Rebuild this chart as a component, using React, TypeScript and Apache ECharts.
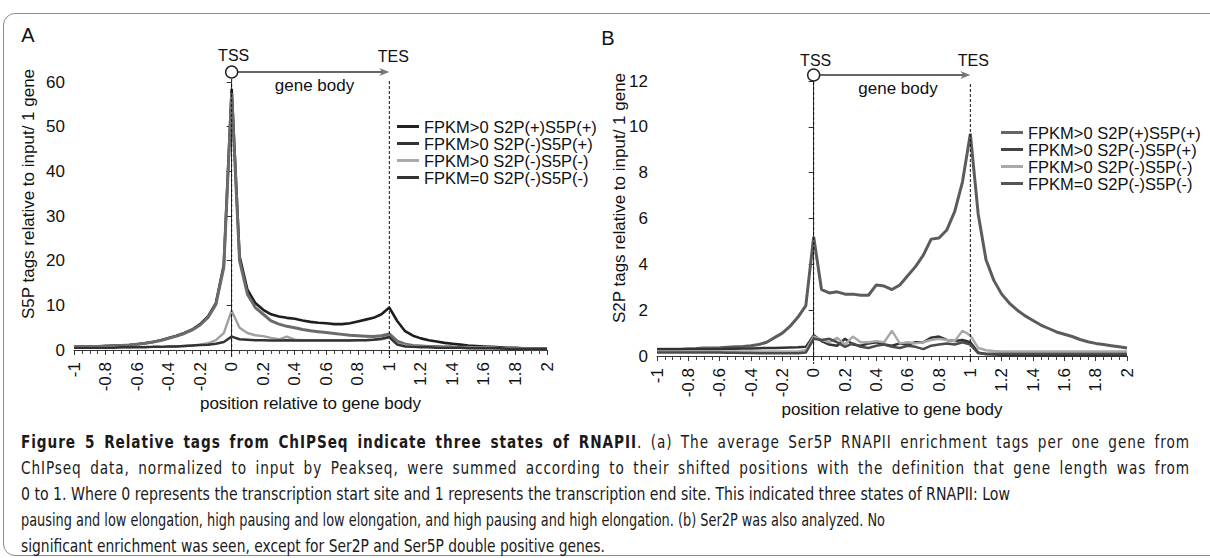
import React, { useEffect, useRef } from "react";
import * as echarts from "echarts";

// ---------- data ----------
const X_POS = [
  -1, -0.95, -0.9, -0.85, -0.8, -0.75, -0.7, -0.65, -0.6, -0.55, -0.5, -0.45, -0.4, -0.35, -0.3, -0.25, -0.2, -0.15, -0.1, -0.05,
  0, 0.05, 0.1, 0.15, 0.2, 0.25, 0.3, 0.35, 0.4, 0.45, 0.5, 0.55, 0.6, 0.65, 0.7, 0.75, 0.8, 0.85, 0.9, 0.95,
  1, 1.05, 1.1, 1.15, 1.2, 1.25, 1.3, 1.35, 1.4, 1.45, 1.5, 1.55, 1.6, 1.65, 1.7, 1.75, 1.8, 1.85, 1.9, 1.95, 2,
];

const X_TICKS = [-1, -0.8, -0.6, -0.4, -0.2, 0, 0.2, 0.4, 0.6, 0.8, 1, 1.2, 1.4, 1.6, 1.8, 2];

const SERIES_NAMES = ["FPKM>0 S2P(+)S5P(+)", "FPKM>0 S2P(-)S5P(+)", "FPKM>0 S2P(-)S5P(-)", "FPKM=0 S2P(-)S5P(-)"];

// Panel A: S5P tags
const A_S2P_POS_S5P_POS = [
  0.8, 0.8, 0.8, 0.8, 0.9, 0.9, 1.0, 1.1, 1.3, 1.5, 1.8, 2.2, 2.7, 3.2, 3.8, 4.6, 5.8, 7.5, 10.5, 19,
  58.5,
  21, 13.5, 10.5, 9, 8, 7.5, 7.2, 7, 6.6, 6.3, 6.1, 6, 5.8, 5.8, 6, 6.4, 6.8, 7.2, 8,
  9.5,
  6.5, 4.2, 3.2, 2.6, 2.2, 1.9, 1.6, 1.4, 1.2, 1.0, 0.9, 0.8, 0.7, 0.6, 0.5, 0.5, 0.4, 0.4, 0.3, 0.3,
];
const A_S2P_NEG_S5P_POS = [
  0.8, 0.8, 0.8, 0.8, 0.9, 1.0, 1.0, 1.1, 1.3, 1.5, 1.8, 2.1, 2.6, 3.1, 3.7, 4.5, 5.6, 7.3, 10.2, 18.5,
  57.5,
  20, 12.5, 9.5, 8, 6.5, 5.8, 5.3, 5, 4.6, 4.3, 4.1, 3.9, 3.7, 3.5, 3.3, 3.2, 3.1, 3.0, 3.2,
  3.6,
  2.0, 1.3, 1.0, 0.9, 0.8, 0.8, 0.7, 0.7, 0.6, 0.6, 0.5, 0.5, 0.5, 0.4, 0.4, 0.4, 0.3, 0.3, 0.3, 0.3,
];
const A_S2P_NEG_S5P_NEG = [
  0.6, 0.6, 0.6, 0.6, 0.6, 0.6, 0.6, 0.6, 0.7, 0.7, 0.7, 0.7, 0.8, 0.8, 0.9, 1.0, 1.2, 1.5, 2.2, 3.8,
  8.8,
  5, 3.8, 3.3, 3.1, 2.7, 2.4, 3.0, 2.3, 2.2, 2.2, 2.2, 2.2, 2.2, 2.2, 2.2, 2.2, 2.2, 2.3, 2.4,
  2.8,
  1.4, 1.0, 0.8, 0.7, 0.7, 0.6, 0.6, 0.6, 0.5, 0.5, 0.5, 0.5, 0.5, 0.4, 0.4, 0.4, 0.4, 0.4, 0.4, 0.4,
];
const A_FPKM0 = [
  0.5, 0.5, 0.5, 0.5, 0.5, 0.5, 0.6, 0.6, 0.6, 0.6, 0.7, 0.7, 0.8, 0.8, 0.9, 1.0, 1.1, 1.2, 1.4, 1.8,
  3.0,
  2.4, 2.3, 2.2, 2.2, 2.1, 2.1, 2.2, 2.1, 2.1, 2.1, 2.1, 2.1, 2.1, 2.1, 2.1, 2.2, 2.2, 2.3, 2.5,
  2.9,
  1.2, 0.8, 0.7, 0.6, 0.6, 0.5, 0.5, 0.5, 0.5, 0.4, 0.4, 0.4, 0.4, 0.4, 0.3, 0.3, 0.3, 0.3, 0.3, 0.3,
];

// Panel B: S2P tags
const B_S2P_POS_S5P_POS = [
  0.3, 0.3, 0.3, 0.3, 0.32, 0.33, 0.35, 0.35, 0.36, 0.38, 0.4, 0.42, 0.45, 0.5, 0.6, 0.8, 1.0, 1.3, 1.7, 2.2,
  5.2,
  2.9, 2.75, 2.8, 2.7, 2.7, 2.65, 2.65, 3.1, 3.05, 2.9, 3.1, 3.5, 3.9, 4.4, 5.1, 5.15, 5.5, 6.3, 7.6,
  9.7,
  6.2, 4.2, 3.3, 2.7, 2.3, 2.0, 1.75, 1.55, 1.35, 1.2, 1.05, 0.95, 0.85, 0.72, 0.62, 0.55, 0.5, 0.45, 0.4, 0.35,
];
const B_S2P_NEG_S5P_POS = [
  0.3, 0.3, 0.3, 0.3, 0.3, 0.3, 0.3, 0.3, 0.3, 0.32, 0.32, 0.33, 0.33, 0.34, 0.35, 0.35, 0.36, 0.37, 0.38, 0.4,
  0.9,
  0.65, 0.5, 0.45, 0.75, 0.5, 0.45, 0.55, 0.6, 0.5, 0.45, 0.55, 0.5, 0.6, 0.6, 0.8, 0.85, 0.7, 0.65, 0.7,
  0.6,
  0.15, 0.08, 0.06, 0.05, 0.05, 0.05, 0.05, 0.05, 0.05, 0.05, 0.05, 0.05, 0.05, 0.05, 0.05, 0.05, 0.05, 0.05, 0.05, 0.05,
];
const B_S2P_NEG_S5P_NEG = [
  0.2, 0.2, 0.2, 0.2, 0.2, 0.2, 0.2, 0.2, 0.2, 0.2, 0.2, 0.2, 0.2, 0.2, 0.2, 0.2, 0.2, 0.2, 0.2, 0.25,
  0.85,
  0.7, 0.6, 0.8, 0.5, 0.85, 0.6, 0.6, 0.65, 0.6, 1.1, 0.55, 0.6, 0.55, 0.6, 0.7, 0.75, 0.7, 0.65, 1.1,
  0.9,
  0.35, 0.25, 0.22, 0.2, 0.2, 0.2, 0.2, 0.2, 0.2, 0.2, 0.2, 0.2, 0.2, 0.2, 0.2, 0.2, 0.2, 0.2, 0.2, 0.2,
];
const B_FPKM0 = [
  0.15, 0.15, 0.15, 0.15, 0.15, 0.15, 0.15, 0.15, 0.15, 0.14, 0.14, 0.13, 0.13, 0.12, 0.12, 0.12, 0.12, 0.12, 0.12, 0.15,
  0.75,
  0.7, 0.75, 0.6, 0.4, 0.55, 0.4, 0.35, 0.45, 0.5, 0.4, 0.35, 0.45, 0.4, 0.3, 0.45, 0.5, 0.55, 0.5, 0.6,
  0.5,
  0.12, 0.1, 0.1, 0.1, 0.1, 0.1, 0.1, 0.1, 0.1, 0.1, 0.1, 0.1, 0.1, 0.1, 0.1, 0.1, 0.1, 0.1, 0.1, 0.1,
];

const A_VALUES = [A_S2P_POS_S5P_POS, A_S2P_NEG_S5P_POS, A_S2P_NEG_S5P_NEG, A_FPKM0];
const B_VALUES = [B_S2P_POS_S5P_POS, B_S2P_NEG_S5P_POS, B_S2P_NEG_S5P_NEG, B_FPKM0];

const Y_TITLES = ["S5P tags relative to input/ 1 gene", "S2P tags relative to input/ 1 gene"];
const X_TITLE = "position relative to gene body";
const PANEL_LABELS = ["A", "B"];

const CAPTION_LINES = [
  { bold: "Figure 5 Relative tags from ChIPSeq indicate three states of RNAPII", text: ". (a) The average Ser5P RNAPII enrichment tags per one gene from" },
  { bold: "", text: "ChIPseq data, normalized to input by Peakseq, were summed according to their shifted positions with the definition that gene length was from" },
  { bold: "", text: "0 to 1. Where 0 represents the transcription start site and 1 represents the transcription end site. This indicated three states of RNAPII: Low" },
  { bold: "", text: "pausing and low elongation, high pausing and low elongation, and high pausing and high elongation. (b) Ser2P was also analyzed. No" },
  { bold: "", text: "significant enrichment was seen, except for Ser2P and Ser5P double positive genes." },
];

// ---------- layout / style ----------
const FONT = '"Liberation Sans", Arial, Helvetica, sans-serif';
const CAPTION_FONT = '"Liberation Sans Narrow", "Arial Narrow", "DejaVu Sans Condensed", "Liberation Sans", sans-serif';
const CAPTION_LAYOUT = {
  left: 21,
  centers: [442, 468, 494, 520, 546],
  widths: [1169, 1169, 989, 864, 584],
  justified: [true, true, false, false, false],
};

const PANELS = [
  {
    grid: { left: 74, top: 82, width: 473, height: 268 },
    yMax: 60, yInterval: 10,
    colors: ["#1e1e1e", "#6b6b6b", "#a0a0a0", "#333333"],
    widths: [2.6, 3, 2.4, 2.5],
    legendIcon: ["#222", "#333", "#aaa", "#333"],
    legend: { left: 397, top: 118, lineHeight: 15 },
    arrowAbove: 10, tssDy: -17, tesDx: 4, tesDy: -16, bodyDx: 4, bodyDy: 13,
    label: { x: 28, y: 35 },
    yTitle: { x: 28, y: 194 },
    suffix: "",
  },
  {
    grid: { left: 657, top: 81, width: 470, height: 275 },
    yMax: 12, yInterval: 2,
    colors: ["#5c5c5c", "#333333", "#a8a8a8", "#4c4c4c"],
    widths: [3, 2.5, 2.4, 2.5],
    legendIcon: ["#666", "#444", "#aaa", "#555"],
    legend: { left: 1001, top: 124, lineHeight: 16.5 },
    arrowAbove: 6, tssDy: -15, tesDx: 3, tesDy: -15, bodyDx: 6, bodyDy: 13,
    label: { x: 608, y: 38 },
    yTitle: { x: 619, y: 198 },
    suffix: " ",
  },
];

function buildOption() {
  const grids: any[] = [];
  const xAxes: any[] = [];
  const yAxes: any[] = [];
  const series: any[] = [];
  const legends: any[] = [];
  PANELS.forEach((p, g) => {
    grids.push({ ...p.grid, containLabel: false });
    xAxes.push({
      type: "value", gridIndex: g, min: X_TICKS[0], max: X_TICKS[X_TICKS.length - 1], interval: 0.2,
      axisLine: { show: true, lineStyle: { color: "#333", width: 1 } },
      axisTick: { show: true, length: 5, lineStyle: { color: "#333" } },
      minorTick: { show: true, splitNumber: 4, length: 4, lineStyle: { color: "#444" } },
      splitLine: { show: false },
      axisLabel: {
        rotate: 90, margin: 12, fontSize: 17, color: "#111", fontFamily: FONT,
        formatter: (v: number) => String(Number(v.toFixed(1))),
      },
      name: X_TITLE, nameLocation: "middle", nameGap: 45,
      nameTextStyle: { fontSize: 17, color: "#111", fontFamily: FONT },
    });
    yAxes.push({
      type: "value", gridIndex: g, min: 0, max: p.yMax, interval: p.yInterval,
      axisLine: { show: true, lineStyle: { color: "#333", width: 1 } },
      axisTick: { show: true, length: 5, lineStyle: { color: "#333" } },
      splitLine: { show: false },
      axisLabel: { fontSize: 17, margin: 9, color: "#111", fontFamily: FONT },
    });
    const vals = g === 0 ? A_VALUES : B_VALUES;
    const names = SERIES_NAMES.map((n) => n + p.suffix);
    vals.forEach((arr, i) => {
      series.push({
        type: "line", name: names[i], xAxisIndex: g, yAxisIndex: g,
        data: X_POS.map((x, k) => [x, arr[k]]),
        symbol: "none", showSymbol: false, silent: true,
        color: p.colors[i],
        itemStyle: { color: p.legendIcon[i] },
        lineStyle: { color: p.colors[i], width: p.widths[i] },
        z: 2 + i,
      });
    });
    legends.push({
      orient: "vertical", left: p.legend.left, top: p.legend.top, padding: 0,
      itemWidth: 22, itemHeight: 3, itemGap: 0, icon: "rect",
      selectedMode: false,
      data: names,
      formatter: (n: string) => n.trim(),
      textStyle: { fontSize: 16.5, lineHeight: p.legend.lineHeight, color: "#111", fontFamily: FONT },
    });
  });
  return {
    animation: false,
    backgroundColor: "transparent",
    grid: grids,
    xAxis: xAxes,
    yAxis: yAxes,
    legend: legends,
    series,
  };
}

function buildGraphic(chart: any) {
  const out: any[] = [];
  PANELS.forEach((p, g) => {
    const [x0, yBot] = chart.convertToPixel({ gridIndex: g }, [0, 0]);
    const [x1] = chart.convertToPixel({ gridIndex: g }, [1, 0]);
    const yTop = chart.convertToPixel({ gridIndex: g }, [0, p.yMax])[1];
    const ay = yTop - p.arrowAbove;
    const textStyle = (text: string, size: number) => ({
      text, fontSize: size, fontFamily: FONT, fill: "#111", align: "center", verticalAlign: "middle",
    });
    out.push({ type: "line", silent: true, z: 5, shape: { x1: x0, y1: ay + 7, x2: x0, y2: yBot + 8 }, style: { stroke: "#111", lineWidth: 1, lineDash: [3, 2] } });
    out.push({ type: "line", silent: true, z: 5, shape: { x1: x1, y1: ay + 9, x2: x1, y2: yBot + 8 }, style: { stroke: "#111", lineWidth: 1, lineDash: [3, 2] } });
    out.push({ type: "line", silent: true, z: 6, shape: { x1: x0 + 6, y1: ay, x2: x1 - 4, y2: ay }, style: { stroke: "#333", lineWidth: 1.6 } });
    out.push({ type: "polygon", silent: true, z: 6, shape: { points: [[x1, ay], [x1 - 10, ay - 4], [x1 - 7, ay], [x1 - 10, ay + 4]] }, style: { fill: "#777" } });
    out.push({ type: "circle", silent: true, z: 7, shape: { cx: x0, cy: ay, r: 6 }, style: { fill: "#fff", stroke: "#222", lineWidth: 1.4 } });
    out.push({ type: "text", silent: true, x: x0 + 2, y: ay + p.tssDy, style: textStyle("TSS", 16) });
    out.push({ type: "text", silent: true, x: x1 + p.tesDx, y: ay + p.tesDy, style: textStyle("TES", 16) });
    out.push({ type: "text", silent: true, x: (x0 + x1) / 2 + p.bodyDx, y: ay + p.bodyDy, style: textStyle("gene body", 17) });
    out.push({ type: "text", silent: true, x: p.label.x, y: p.label.y, style: textStyle(PANEL_LABELS[g], 20) });
    out.push({ type: "text", silent: true, x: p.yTitle.x, y: p.yTitle.y, rotation: Math.PI / 2, style: textStyle(Y_TITLES[g], 17) });
  });
  return out;
}

export default function App() {
  const chartRef = useRef<HTMLDivElement>(null);
  const lineRefs = useRef<(HTMLSpanElement | null)[]>([]);

  useEffect(() => {
    const el = chartRef.current;
    if (!el) return;
    const chart = echarts.init(el, null, { renderer: "svg" });
    chart.setOption(buildOption());
    chart.setOption({ graphic: buildGraphic(chart) });
    return () => chart.dispose();
  }, []);

  useEffect(() => {
    const spans = lineRefs.current;
    const naturals = spans.map((s) => {
      if (!s) return 0;
      s.style.transform = "none";
      s.style.wordSpacing = "0px";
      s.style.letterSpacing = "0px";
      return s.getBoundingClientRect().width;
    });
    // uniform horizontal scale from the ragged (non-justified) lines
    let sum = 0;
    let n = 0;
    naturals.forEach((w, i) => {
      if (!CAPTION_LAYOUT.justified[i] && w > 0) { sum += CAPTION_LAYOUT.widths[i] / w; n += 1; }
    });
    const s = n > 0 ? sum / n : 1;
    spans.forEach((span, i) => {
      if (!span) return;
      if (CAPTION_LAYOUT.justified[i]) {
        const ln = CAPTION_LINES[i];
        const full = ln.bold + ln.text;
        const spaces = full.split(" ").length - 1;
        const extra = CAPTION_LAYOUT.widths[i] / s - naturals[i];
        if (extra > 0) {
          span.style.wordSpacing = `${(0.35 * extra) / Math.max(1, spaces)}px`;
          span.style.letterSpacing = `${(0.65 * extra) / full.length}px`;
        }
      }
      const w = span.getBoundingClientRect().width;
      const k = w > 0 ? CAPTION_LAYOUT.widths[i] / w : s;
      span.style.transform = `scaleX(${k})`;
    });
  }, []);

  return (
    <div style={{ position: "absolute", left: 0, top: 0, width: 1210, height: 558, overflow: "hidden", background: "#fff" }}>
      <div style={{ position: "absolute", left: 3, top: 13, width: 1250, height: 543, border: "1px solid #8c8c8c", borderRadius: 12, boxSizing: "border-box" }} />
      <div ref={chartRef} style={{ position: "absolute", left: 0, top: 0, width: 1210, height: 558 }} />
      {CAPTION_LINES.map((ln, i) => (
        <div
          key={i}
          style={{
            position: "absolute", left: CAPTION_LAYOUT.left, top: CAPTION_LAYOUT.centers[i] - 13, height: 26,
            lineHeight: "26px", whiteSpace: "nowrap", fontFamily: CAPTION_FONT, fontSize: 17, color: "#1a1a1a",
          }}
        >
          <span ref={(r) => { lineRefs.current[i] = r; }} style={{ display: "inline-block", transformOrigin: "0 50%" }}>
            {ln.bold ? <b>{ln.bold}</b> : null}
            {ln.text}
          </span>
        </div>
      ))}
    </div>
  );
}
